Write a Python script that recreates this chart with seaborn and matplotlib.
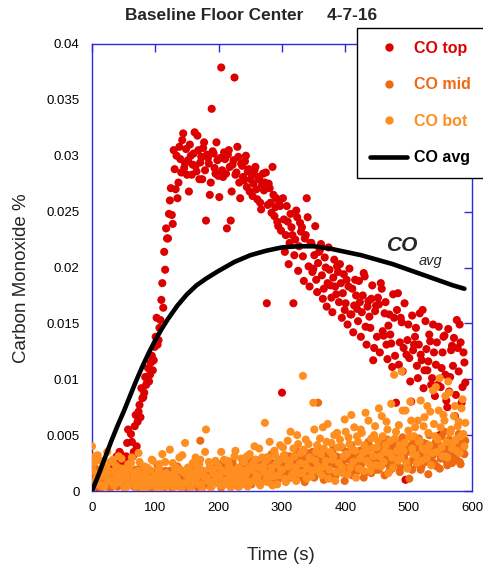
import numpy as np
import pandas as pd
import matplotlib
matplotlib.use("Agg")
import matplotlib.pyplot as plt
from matplotlib.lines import Line2D
import seaborn as sns

# ---------------- data ----------------
# samples at whole-3 s times (set A) and at the half steps in between (set B)
time_a = [
    0, 3, 6, 9, 12, 15, 18, 21, 24, 27, 30, 33, 36, 39, 42, 45, 48, 51, 54, 57,
    60, 63, 66, 69, 72, 75, 78, 81, 84, 87, 90, 93, 96, 99, 102, 105, 108, 111, 114, 117,
    120, 123, 126, 129, 132, 135, 138, 141, 144, 147, 150, 153, 156, 159, 162, 165, 168, 171, 174, 177,
    180, 183, 186, 189, 192, 195, 198, 201, 204, 207, 210, 213, 216, 219, 222, 225, 228, 231, 234, 237,
    240, 243, 246, 249, 252, 255, 258, 261, 264, 267, 270, 273, 276, 279, 282, 285, 288, 291, 294, 297,
    300, 303, 306, 309, 312, 315, 318, 321, 324, 327, 330, 333, 336, 339, 342, 345, 348, 351, 354, 357,
    360, 363, 366, 369, 372, 375, 378, 381, 384, 387, 390, 393, 396, 399, 402, 405, 408, 411, 414, 417,
    420, 423, 426, 429, 432, 435, 438, 441, 444, 447, 450, 453, 456, 459, 462, 465, 468, 471, 474, 477,
    480, 483, 486, 489, 492, 495, 498, 501, 504, 507, 510, 513, 516, 519, 522, 525, 528, 531, 534, 537,
    540, 543, 546, 549, 552, 555, 558, 561, 564, 567, 570, 573, 576, 579, 582, 585, 588,
]
time_b = [
    1.5, 4.5, 7.5, 10.5, 13.5, 16.5, 19.5, 22.5, 25.5, 28.5, 31.5, 34.5, 37.5, 40.5, 43.5, 46.5, 49.5, 52.5, 55.5, 58.5,
    61.5, 64.5, 67.5, 70.5, 73.5, 76.5, 79.5, 82.5, 85.5, 88.5, 91.5, 94.5, 97.5, 100.5, 103.5, 106.5, 109.5, 112.5, 115.5, 118.5,
    121.5, 124.5, 127.5, 130.5, 133.5, 136.5, 139.5, 142.5, 145.5, 148.5, 151.5, 154.5, 157.5, 160.5, 163.5, 166.5, 169.5, 172.5, 175.5, 178.5,
    181.5, 184.5, 187.5, 190.5, 193.5, 196.5, 199.5, 202.5, 205.5, 208.5, 211.5, 214.5, 217.5, 220.5, 223.5, 226.5, 229.5, 232.5, 235.5, 238.5,
    241.5, 244.5, 247.5, 250.5, 253.5, 256.5, 259.5, 262.5, 265.5, 268.5, 271.5, 274.5, 277.5, 280.5, 283.5, 286.5, 289.5, 292.5, 295.5, 298.5,
    301.5, 304.5, 307.5, 310.5, 313.5, 316.5, 319.5, 322.5, 325.5, 328.5, 331.5, 334.5, 337.5, 340.5, 343.5, 346.5, 349.5, 352.5, 355.5, 358.5,
    361.5, 364.5, 367.5, 370.5, 373.5, 376.5, 379.5, 382.5, 385.5, 388.5, 391.5, 394.5, 397.5, 400.5, 403.5, 406.5, 409.5, 412.5, 415.5, 418.5,
    421.5, 424.5, 427.5, 430.5, 433.5, 436.5, 439.5, 442.5, 445.5, 448.5, 451.5, 454.5, 457.5, 460.5, 463.5, 466.5, 469.5, 472.5, 475.5, 478.5,
    481.5, 484.5, 487.5, 490.5, 493.5, 496.5, 499.5, 502.5, 505.5, 508.5, 511.5, 514.5, 517.5, 520.5, 523.5, 526.5, 529.5, 532.5, 535.5, 538.5,
    541.5, 544.5, 547.5, 550.5, 553.5, 556.5, 559.5, 562.5, 565.5, 568.5, 571.5, 574.5, 577.5, 580.5, 583.5, 586.5, 589.5,
]

co_top_a = [
    .0008, .0012, .0004, .0015, .0010, .0006, .0013, .0009, .0017, .0011,
    .0010, .0019, .0025, .0031, .0022, .0033, .0027, .0020, .0031, .0055,
    .0026, .0044, .0035, .0068, .0062, .0077, .0092, .0084, .0102, .0097,
    .0098, .0115, .0108, .0129, .0155, .0135, .0153, .0186, .0214, .0235,
    .0226, .0260, .0247, .0305, .0270, .0262, .0308, .0285, .0320, .0293,
    .0283, .0268, .0300, .0292, .0321, .0286, .0305, .0294, .0279, .0312,
    .0242, .0298, .0265, .0342, .0302, .0284, .0296, .0263, .0379, .0281,
    .0297, .0235, .0305, .0242, .0292, .0370, .0285, .0299, .0262, .0291,
    .0278, .0300, .0286, .0268, .0283, .0275, .0290, .0261, .0279, .0252,
    .0284, .0276, .0168, .0275, .0258, .0290, .0246, .0262, .0237, .0255,
    .0088, .0243, .0229, .0241, .0222, .0236, .0168, .0225, .0245, .0219,
    .0232, .0210, .0226, .0262, .0201, .0222, .0196, .0211, .0189, .0204,
    .0216, .0193, .0181, .0200, .0186, .0198, .0173, .0191, .0183, .0201,
    .0169, .0186, .0177, .0162, .0189, .0183, .0158, .0181, .0166, .0175,
    .0152, .0169, .0160, .0195, .0147, .0165, .0156, .0172, .0117, .0161,
    .0138, .0167, .0186, .0143, .0159, .0131, .0148, .0140, .0111, .0155,
    .0079, .0177, .0133, .0151, .0128, .0010, .0135, .0119, .0080, .0126,
    .0138, .0112, .0131, .0122, .0162, .0108, .0127, .0116, .0134, .0101,
    .0124, .0113, .0095, .0050, .0110, .0138, .0104, .0075, .0089, .0126,
    .0112, .0067, .0153, .0107, .0133, .0093, .0115,
]
co_top_b = [
    .0005, .0014, .0009, .0003, .0012, .0007, .0016, .0011, .0006, .0014,
    .0016, .0023, .0029, .0021, .0035, .0026, .0030, .0024, .0043, .0028,
    .0051, .0031, .0058, .0040, .0071, .0066, .0083, .0088, .0095, .0110,
    .0104, .0121, .0117, .0138, .0131, .0146, .0171, .0164, .0198, .0226,
    .0248, .0271, .0239, .0288, .0300, .0276, .0297, .0314, .0289, .0306,
    .0296, .0310, .0283, .0302, .0291, .0318, .0279, .0299, .0307, .0287,
    .0301, .0293, .0276, .0304, .0289, .0312, .0282, .0298, .0287, .0303,
    .0284, .0301, .0290, .0268, .0296, .0283, .0308, .0276, .0293, .0281,
    .0295, .0272, .0288, .0279, .0264, .0287, .0270, .0281, .0258, .0274,
    .0269, .0285, .0256, .0271, .0249, .0265, .0254, .0241, .0259, .0233,
    .0262, .0214, .0255, .0203, .0248, .0229, .0211, .0251, .0197, .0240,
    .0236, .0188, .0229, .0245, .0183, .0222, .0199, .0237, .0178, .0214,
    .0221, .0172, .0209, .0165, .0218, .0184, .0160, .0207, .0176, .0196,
    .0203, .0155, .0194, .0168, .0149, .0199, .0158, .0142, .0189, .0163,
    .0188, .0138, .0175, .0192, .0131, .0170, .0146, .0184, .0128, .0166,
    .0173, .0124, .0181, .0139, .0169, .0118, .0158, .0132, .0176, .0121,
    .0162, .0113, .0155, .0107, .0168, .0122, .0149, .0098, .0157, .0131,
    .0146, .0101, .0159, .0117, .0092, .0152, .0108, .0140, .0095, .0149,
    .0085, .0133, .0147, .0093, .0124, .0139, .0081, .0145, .0102, .0130,
    .0137, .0086, .0128, .0149, .0079, .0124, .0097,
]

co_mid_a = [
    .0012, .0004, .0020, .0008, .0015, .0003, .0010, .0018, .0006, .0013,
    .0009, .0016, .0005, .0011, .0021, .0007, .0014, .0003, .0010, .0017,
    .0006, .0012, .0004, .0019, .0009, .0002, .0014, .0008, .0016, .0005,
    .0011, .0003, .0017, .0007, .0012, .0020, .0004, .0009, .0015, .0006,
    .0010, .0018, .0003, .0013, .0007, .0022, .0005, .0011, .0016, .0008,
    .0004, .0014, .0009, .0019, .0006, .0012, .0002, .0045, .0010, .0017,
    .0007, .0013, .0021, .0005, .0011, .0016, .0008, .0024, .0003, .0014,
    .0010, .0019, .0006, .0012, .0026, .0008, .0015, .0004, .0020, .0011,
    .0017, .0009, .0023, .0013, .0006, .0019, .0028, .0011, .0016, .0008,
    .0021, .0014, .0030, .0010, .0018, .0025, .0007, .0016, .0022, .0012,
    .0027, .0015, .0009, .0023, .0031, .0013, .0019, .0026, .0011, .0034,
    .0018, .0024, .0008, .0029, .0016, .0021, .0035, .0012, .0025, .0079,
    .0019, .0028, .0010, .0033, .0022, .0015, .0027, .0038, .0013, .0024,
    .0030, .0017, .0026, .0009, .0035, .0021, .0029, .0014, .0032, .0023,
    .0018, .0036, .0025, .0012, .0031, .0027, .0040, .0016, .0029, .0022,
    .0034, .0019, .0028, .0043, .0014, .0031, .0024, .0037, .0020, .0033,
    .0026, .0045, .0017, .0030, .0039, .0022, .0035, .0011, .0041, .0028,
    .0033, .0024, .0047, .0019, .0036, .0029, .0042, .0015, .0038, .0031,
    .0025, .0044, .0034, .0020, .0049, .0030, .0039, .0023, .0046, .0032,
    .0028, .0041, .0036, .0051, .0024, .0043, .0033,
]
co_mid_b = [
    .0007, .0016, .0010, .0004, .0013, .0009, .0019, .0005, .0011, .0002,
    .0013, .0007, .0018, .0004, .0012, .0009, .0015, .0006, .0020, .0008,
    .0010, .0015, .0007, .0003, .0013, .0021, .0006, .0011, .0004, .0017,
    .0008, .0014, .0005, .0010, .0023, .0007, .0013, .0002, .0018, .0009,
    .0015, .0006, .0012, .0004, .0017, .0010, .0019, .0007, .0013, .0003,
    .0011, .0020, .0006, .0015, .0009, .0024, .0004, .0013, .0018, .0008,
    .0016, .0005, .0012, .0019, .0009, .0022, .0013, .0006, .0017, .0010,
    .0023, .0007, .0014, .0018, .0010, .0021, .0005, .0016, .0012, .0025,
    .0010, .0020, .0015, .0027, .0009, .0018, .0013, .0022, .0006, .0024,
    .0017, .0011, .0026, .0019, .0033, .0014, .0023, .0009, .0028, .0018,
    .0021, .0032, .0016, .0025, .0012, .0030, .0020, .0036, .0014, .0027,
    .0031, .0011, .0026, .0019, .0034, .0023, .0015, .0030, .0020, .0037,
    .0025, .0016, .0033, .0021, .0029, .0012, .0036, .0024, .0031, .0018,
    .0027, .0039, .0020, .0032, .0015, .0028, .0041, .0025, .0019, .0034,
    .0029, .0021, .0037, .0016, .0033, .0044, .0024, .0030, .0038, .0019,
    .0028, .0040, .0023, .0035, .0027, .0046, .0018, .0032, .0041, .0025,
    .0037, .0021, .0034, .0048, .0029, .0040, .0024, .0036, .0019, .0044,
    .0027, .0039, .0031, .0022, .0043, .0035, .0026, .0050, .0033, .0040,
    .0037, .0022, .0041, .0029, .0036, .0053, .0027, .0044, .0035, .0025,
    .0039, .0031, .0047, .0026, .0038, .0034, .0045,
]

co_bot_a = [
    .0040, .0025, .0008, .0032, .0015, .0005, .0022, .0012, .0035, .0018,
    .0010, .0028, .0006, .0016, .0031, .0009, .0020, .0003, .0014, .0024,
    .0007, .0030, .0012, .0004, .0018, .0026, .0009, .0015, .0002, .0021,
    .0011, .0005, .0027, .0014, .0008, .0019, .0003, .0033, .0010, .0016,
    .0006, .0037, .0013, .0004, .0021, .0009, .0030, .0002, .0017, .0043,
    .0008, .0014, .0003, .0025, .0011, .0019, .0006, .0028, .0002, .0013,
    .0055, .0009, .0020, .0004, .0016, .0027, .0007, .0012, .0035, .0005,
    .0018, .0010, .0024, .0003, .0014, .0031, .0008, .0021, .0012, .0006,
    .0026, .0015, .0004, .0033, .0019, .0009, .0028, .0013, .0038, .0007,
    .0022, .0061, .0011, .0030, .0017, .0005, .0036, .0024, .0014, .0041,
    .0019, .0032, .0008, .0045, .0026, .0013, .0038, .0021, .0050, .0016,
    .0034, .0103, .0024, .0011, .0042, .0029, .0018, .0055, .0035, .0022,
    .0047, .0014, .0038, .0027, .0060, .0019, .0043, .0031, .0009, .0052,
    .0025, .0040, .0016, .0064, .0033, .0048, .0021, .0037, .0057, .0012,
    .0044, .0029, .0052, .0018, .0070, .0036, .0024, .0047, .0031, .0058,
    .0039, .0074, .0022, .0049, .0035, .0062, .0016, .0045, .0030, .0104,
    .0053, .0027, .0041, .0107, .0036, .0072, .0020, .0048, .0063, .0033,
    .0057, .0025, .0044, .0081, .0038, .0066, .0029, .0052, .0071, .0034,
    .0060, .0093, .0046, .0101, .0039, .0068, .0085, .0030, .0088, .0055,
    .0043, .0076, .0036, .0062, .0049, .0082, .0040,
]
co_bot_b = [
    .0018, .0031, .0011, .0006, .0027, .0014, .0004, .0020, .0009, .0026,
    .0017, .0005, .0023, .0012, .0008, .0029, .0015, .0011, .0004, .0019,
    .0025, .0009, .0016, .0006, .0034, .0012, .0003, .0022, .0013, .0007,
    .0019, .0028, .0006, .0012, .0002, .0024, .0015, .0009, .0026, .0004,
    .0014, .0008, .0025, .0017, .0011, .0005, .0019, .0032, .0007, .0015,
    .0021, .0004, .0017, .0009, .0030, .0013, .0024, .0006, .0018, .0035,
    .0012, .0026, .0003, .0019, .0009, .0014, .0022, .0005, .0017, .0028,
    .0008, .0027, .0013, .0019, .0007, .0036, .0015, .0004, .0029, .0018,
    .0011, .0031, .0020, .0008, .0024, .0040, .0014, .0021, .0005, .0030,
    .0017, .0027, .0008, .0044, .0021, .0013, .0032, .0006, .0027, .0019,
    .0039, .0011, .0028, .0022, .0053, .0015, .0031, .0009, .0042, .0025,
    .0016, .0037, .0046, .0020, .0030, .0013, .0079, .0027, .0041, .0018,
    .0033, .0057, .0022, .0044, .0011, .0035, .0028, .0050, .0017, .0039,
    .0046, .0021, .0031, .0053, .0015, .0042, .0068, .0026, .0036, .0049,
    .0020, .0055, .0034, .0041, .0027, .0063, .0018, .0038, .0050, .0023,
    .0045, .0031, .0067, .0026, .0041, .0055, .0034, .0078, .0021, .0047,
    .0036, .0059, .0030, .0072, .0043, .0025, .0054, .0080, .0038, .0049,
    .0032, .0063, .0045, .0027, .0058, .0036, .0076, .0041, .0023, .0090,
    .0049, .0035, .0072, .0057, .0031, .0063, .0044, .0098, .0052, .0038,
    .0067, .0046, .0058, .0034, .0074, .0051, .0061,
]

avg_time = [0, 10, 20, 30, 40, 50, 60, 70, 80, 90, 100, 110, 120, 135, 150, 165, 180,
            200, 225, 250, 275, 300, 325, 350, 375, 400, 425, 450, 475, 500, 525,
            550, 570, 588]
co_avg = [0.0000, 0.0014, 0.0029, 0.0044, 0.0058, 0.0071, 0.0085, 0.0099, 0.0112,
          0.0124, 0.0135, 0.0145, 0.0154, 0.0166, 0.0176, 0.0184, 0.0190, 0.0197,
          0.0205, 0.0211, 0.0215, 0.0218, 0.0219, 0.0219, 0.0217, 0.0214, 0.0211,
          0.0207, 0.0203, 0.0198, 0.0193, 0.0188, 0.0184, 0.0181]

series_names = ["CO top", "CO mid", "CO bot"]
x_ticks = [0, 100, 200, 300, 400, 500, 600]
y_tick_labels = ["0", "0.005", "0.01", "0.015", "0.02", "0.025", "0.03", "0.035", "0.04"]

# ---------------- styling ----------------
sns.set_theme(style="white")
plt.rcParams["font.family"] = ["Liberation Sans", "DejaVu Sans"]

C_TOP = "#DD0000"
C_MID = "#EE6A12"
C_BOT = "#FF8E20"
C_AX = "#2B2BD9"
palette = {"CO top": C_TOP, "CO mid": C_MID, "CO bot": C_BOT}

frames = []
for name, va, vb in [("CO top", co_top_a, co_top_b),
                     ("CO mid", co_mid_a, co_mid_b),
                     ("CO bot", co_bot_a, co_bot_b)]:
    frames.append(pd.DataFrame({"time": time_a + time_b, "value": va + vb,
                                "series": name}))
df = pd.concat(frames, ignore_index=True)
df_avg = pd.DataFrame({"time": avg_time, "value": co_avg})

W, H = 483, 572
fig = plt.figure(figsize=(W / 100, H / 100), dpi=100)
ax = fig.add_axes([92 / W, (H - 491) / H, 380 / W, 447 / H])

sns.scatterplot(data=df, x="time", y="value", hue="series", palette=palette,
                hue_order=series_names, s=34, linewidth=0, alpha=1,
                legend=False, ax=ax, zorder=3)
sns.lineplot(data=df_avg, x="time", y="value", color="black", lw=3.3,
             ax=ax, zorder=4, legend=False)

ax.set_xlim(0, 600)
ax.set_ylim(0, 0.04)
ax.set_xticks(x_ticks)
ax.set_yticks([i * 0.005 for i in range(len(y_tick_labels))])
ax.set_yticklabels(y_tick_labels)
ax.tick_params(direction="in", length=6, width=1, color=C_AX,
               top=True, right=True, labelsize=9.5, labelcolor="black")
ax.tick_params(axis="y", pad=9)
ax.tick_params(axis="x", pad=8)
for sp in ax.spines.values():
    sp.set_color(C_AX)
    sp.set_linewidth(1.0)
ax.set_xlabel("")
ax.set_ylabel("")

fig.text(22 / W, 1 - 278 / H, "Carbon Monoxide %", rotation=90, ha="center",
         va="center", fontsize=13.5)
fig.text(281 / W, 1 - 555 / H, "Time (s)", ha="center", va="center", fontsize=13.5)
fig.text(251 / W, 1 - 15 / H, "Baseline Floor Center     4-7-16", ha="center",
         va="center", fontsize=12.4, fontweight="bold")

# CO_avg annotation
ax.text(466, 0.0220, "CO", fontsize=15, fontweight="bold", fontstyle="italic",
        ha="left", va="center")
ax.text(516, 0.0206, "avg", fontsize=10.5, fontstyle="italic", ha="left", va="center")

# legend
handles = [
    Line2D([], [], ls="none", marker="o", ms=6, mew=0, color=C_TOP),
    Line2D([], [], ls="none", marker="o", ms=6, mew=0, color=C_MID),
    Line2D([], [], ls="none", marker="o", ms=6, mew=0, color=C_BOT),
    Line2D([], [], color="black", lw=3.3),
]
labels = ["CO top", "CO mid", "CO bot", "CO avg"]
leg = fig.legend(handles, labels, loc="upper left",
                 bbox_to_anchor=(357 / W, 1 - 28 / H), bbox_transform=fig.transFigure,
                 prop={"weight": "bold", "size": 11.5}, frameon=True, fancybox=False,
                 handlelength=2.35, handletextpad=0.45, labelspacing=1.35,
                 borderpad=0.8, borderaxespad=0, framealpha=1)
leg.get_frame().set_edgecolor("black")
leg.get_frame().set_linewidth(1.0)
for txt, c in zip(leg.get_texts(), [C_TOP, C_MID, C_BOT, "black"]):
    txt.set_color(c)

fig.savefig("out.png", dpi=100)
